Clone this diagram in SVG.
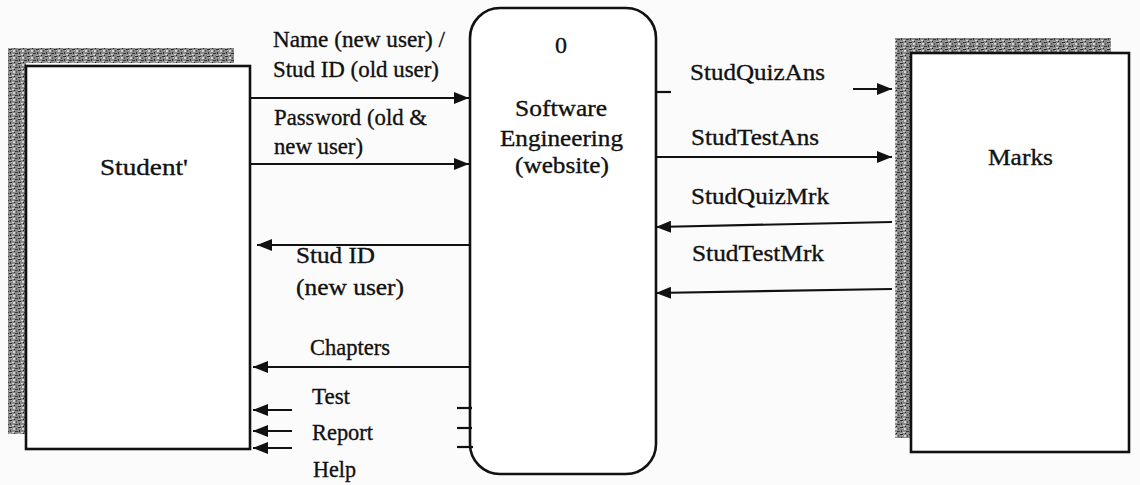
<svg xmlns="http://www.w3.org/2000/svg" width="1140" height="485" viewBox="0 0 1140 485">
  <style>
    .lbl { font-family: "Liberation Serif", "Times New Roman", serif; font-size: 24px; fill: #111; stroke: #111; stroke-width: 0.35; }
    .box { fill: #fff; stroke: #111; stroke-width: 2.6; }
    .flow { stroke: #111; stroke-width: 2.2; fill: none; }
    .shade { fill: url(#grain); }
  </style>
  <defs>
    <!-- speckled grey used for the external-entity shadow edges -->
    <pattern id="grain" width="9" height="7" patternUnits="userSpaceOnUse">
      <rect width="9" height="7" fill="#8a8a8a"/>
      <rect x="0" y="0" width="3" height="1" fill="#2a2a2a"/>
      <rect x="4" y="1" width="2" height="2" fill="#d4d4d4"/>
      <rect x="1" y="3" width="1" height="2" fill="#333"/>
      <rect x="6" y="4" width="3" height="1" fill="#3a3a3a"/>
      <rect x="3" y="5" width="2" height="1" fill="#dadada"/>
      <rect x="0" y="6" width="2" height="1" fill="#b0b0b0"/>
      <rect x="5" y="6" width="1" height="1" fill="#222"/>
      <rect x="7" y="1" width="1" height="2" fill="#555"/>
      <rect x="2" y="1" width="1" height="1" fill="#c0c0c0"/>
    </pattern>
    <marker id="arrow" viewBox="0 0 15 12" refX="15" refY="6" markerWidth="15" markerHeight="12" markerUnits="userSpaceOnUse" orient="auto">
      <path d="M0,0 L15,6 L0,12 Z" fill="#111"/>
    </marker>
  </defs>

  <rect width="1140" height="485" fill="#fbfbfb"/>

  <!-- external entity: Student -->
  <g id="student">
    <rect class="shade" x="8" y="48" width="226" height="15"/>
    <rect class="shade" x="8" y="48" width="18" height="386"/>
    <rect class="box" x="26" y="66" width="224" height="383"/>
    <text class="lbl" x="100" y="175" textLength="88" lengthAdjust="spacingAndGlyphs">Student'</text>
  </g>

  <!-- process 0 -->
  <g id="process-0">
    <rect class="box" x="470" y="8" width="186" height="466" rx="30" ry="30"/>
    <text class="lbl" x="561" y="53" text-anchor="middle">0</text>
    <text class="lbl" x="515" y="116" textLength="92" lengthAdjust="spacingAndGlyphs">Software</text>
    <text class="lbl" x="500" y="146" textLength="123" lengthAdjust="spacingAndGlyphs">Engineering</text>
    <text class="lbl" x="515" y="173" textLength="94" lengthAdjust="spacingAndGlyphs">(website)</text>
  </g>

  <!-- external entity: Marks -->
  <g id="marks">
    <rect class="shade" x="895" y="38" width="216" height="15"/>
    <rect class="shade" x="895" y="38" width="16" height="400"/>
    <rect class="box" x="911" y="53" width="218" height="399"/>
    <text class="lbl" x="988" y="165" textLength="65" lengthAdjust="spacingAndGlyphs">Marks</text>
  </g>

  <!-- data flows -->
  <g id="connectors">
    <!-- Student -> process -->
    <line class="flow" x1="250" y1="98" x2="469" y2="98" marker-end="url(#arrow)"/>
    <line class="flow" x1="250" y1="164" x2="469" y2="164" marker-end="url(#arrow)"/>
    <!-- process -> Student -->
    <line class="flow" x1="470" y1="245" x2="257" y2="245" marker-end="url(#arrow)"/>
    <line class="flow" x1="470" y1="367" x2="253" y2="367" marker-end="url(#arrow)"/>
    <line class="flow" x1="292" y1="410" x2="253" y2="410" marker-end="url(#arrow)"/>
    <line class="flow" x1="292" y1="431" x2="253" y2="431" marker-end="url(#arrow)"/>
    <line class="flow" x1="292" y1="448" x2="253" y2="448" marker-end="url(#arrow)"/>
    <!-- stubs on the process edge -->
    <line class="flow" x1="457" y1="408" x2="472" y2="408"/>
    <line class="flow" x1="457" y1="428" x2="472" y2="428"/>
    <line class="flow" x1="457" y1="447" x2="473" y2="447"/>
    <!-- process -> Marks -->
    <line class="flow" x1="655" y1="92" x2="671" y2="92"/>
    <line class="flow" x1="853" y1="89" x2="892" y2="89" marker-end="url(#arrow)"/>
    <line class="flow" x1="655" y1="157" x2="892" y2="157" marker-end="url(#arrow)"/>
    <!-- Marks -> process -->
    <line class="flow" x1="892" y1="222" x2="656" y2="227" marker-end="url(#arrow)"/>
    <line class="flow" x1="892" y1="289" x2="656" y2="293" marker-end="url(#arrow)"/>
  </g>

  <!-- flow labels -->
  <g id="flow-labels">
    <text class="lbl" x="273" y="47" textLength="172" lengthAdjust="spacingAndGlyphs">Name (new user) /</text>
    <text class="lbl" x="273" y="77" textLength="166" lengthAdjust="spacingAndGlyphs">Stud ID (old user)</text>
    <text class="lbl" x="274" y="125" textLength="153" lengthAdjust="spacingAndGlyphs">Password (old &amp;</text>
    <text class="lbl" x="274" y="154" textLength="89" lengthAdjust="spacingAndGlyphs">new user)</text>
    <text class="lbl" x="296" y="263" textLength="79" lengthAdjust="spacingAndGlyphs">Stud ID</text>
    <text class="lbl" x="296" y="295" textLength="108" lengthAdjust="spacingAndGlyphs">(new user)</text>
    <text class="lbl" x="310" y="355" textLength="80" lengthAdjust="spacingAndGlyphs">Chapters</text>
    <text class="lbl" x="312" y="404" textLength="38" lengthAdjust="spacingAndGlyphs">Test</text>
    <text class="lbl" x="312" y="440" textLength="61" lengthAdjust="spacingAndGlyphs">Report</text>
    <text class="lbl" x="313" y="477" textLength="43" lengthAdjust="spacingAndGlyphs">Help</text>
    <text class="lbl" x="690" y="80" textLength="135" lengthAdjust="spacingAndGlyphs">StudQuizAns</text>
    <text class="lbl" x="691" y="145" textLength="128" lengthAdjust="spacingAndGlyphs">StudTestAns</text>
    <text class="lbl" x="691" y="204" textLength="138" lengthAdjust="spacingAndGlyphs">StudQuizMrk</text>
    <text class="lbl" x="692" y="261" textLength="132" lengthAdjust="spacingAndGlyphs">StudTestMrk</text>
  </g>
</svg>
